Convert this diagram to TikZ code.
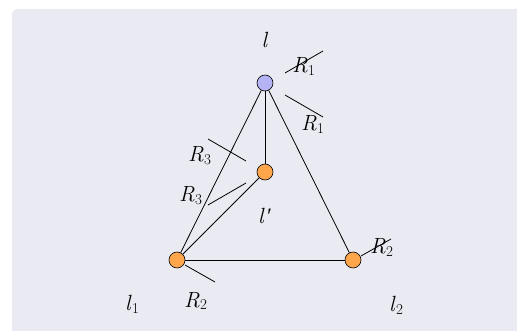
\documentclass[tikz,border=0pt]{standalone}
\usepackage{fontspec}
\newfontfamily\primefont{Liberation Serif}
\definecolor{bgpanel}{RGB}{234,234,242}
\definecolor{vorange}{RGB}{255,166,77}
\definecolor{vblue}{RGB}{180,180,245}
\newcommand\symsub[2]{\textit{#1}\kern0.3pt\raisebox{-0.3ex}{\fontsize{15}{17}\selectfont #2}}
\begin{document}
\begin{tikzpicture}[x=1pt,y=-1pt,
  vtx/.style={circle,draw=black,line width=0.6pt,minimum size=16pt,inner sep=0pt},
  orangev/.style={vtx,fill=vorange},
  bluev/.style={vtx,fill=vblue},
  edge/.style={draw=black,line width=0.8pt},
  tick/.style={draw=black,line width=0.8pt},
  lbl/.style={inner sep=0pt,anchor=base west,font=\fontsize{22}{26}\selectfont}]
\useasboundingbox (0,0) rectangle (517,331);
\clip (0,0) rectangle (517,331);
\fill[white] (0,0) rectangle (517,331);
\fill[bgpanel,rounded corners=6pt] (12,9) rectangle (540,360);
\node[bluev] (t) at (265,83) {};
\node[orangev] (m) at (265,172) {};
\node[orangev] (a) at (177,260) {};
\node[orangev] (b) at (353,260) {};
\draw[edge] (t) -- (a);
\draw[edge] (t) -- (m);
\draw[edge] (t) -- (b);
\draw[edge] (m) -- (a);
\draw[edge] (a) -- (b);
\node[lbl,anchor=base] (lt) at (265,48) {\textit{l}};
\node[lbl] (lm) at (258,224) {\textit{l}\kern1pt{\primefont\itshape ′}};
\node[lbl] (la) at (125,311) {\symsub{l}{1}};
\node[lbl] (lb) at (389,312) {\symsub{l}{2}};
\coordinate (r1a) at (285,73); \coordinate (r1b) at (323,51);
\coordinate (r1c) at (285,95); \coordinate (r1d) at (323,117);
\coordinate (r3a) at (208,139); \coordinate (r3b) at (246,161);
\coordinate (r3c) at (208,205); \coordinate (r3d) at (246,183);
\coordinate (r2a) at (185,265); \coordinate (r2b) at (215,282);
\coordinate (r2c) at (361,256); \coordinate (r2d) at (391,239);
\draw[tick] (r1a) -- (r1b);
\draw[tick] (r1c) -- (r1d);
\draw[tick] (r3a) -- (r3b);
\draw[tick] (r3c) -- (r3d);
\draw[tick] (r2a) -- (r2b);
\draw[tick] (r2c) -- (r2d);
\node[lbl] (R1u) at (292,73) {\symsub{R}{1}};
\node[lbl] (R1l) at (301,131) {\symsub{R}{1}};
\node[lbl] (R3u) at (188,162) {\symsub{R}{3}};
\node[lbl] (R3l) at (179,202) {\symsub{R}{3}};
\node[lbl] (R2l) at (184,307) {\symsub{R}{2}};
\node[lbl] (R2r) at (370,254) {\symsub{R}{2}};
\end{tikzpicture}
\end{document}
